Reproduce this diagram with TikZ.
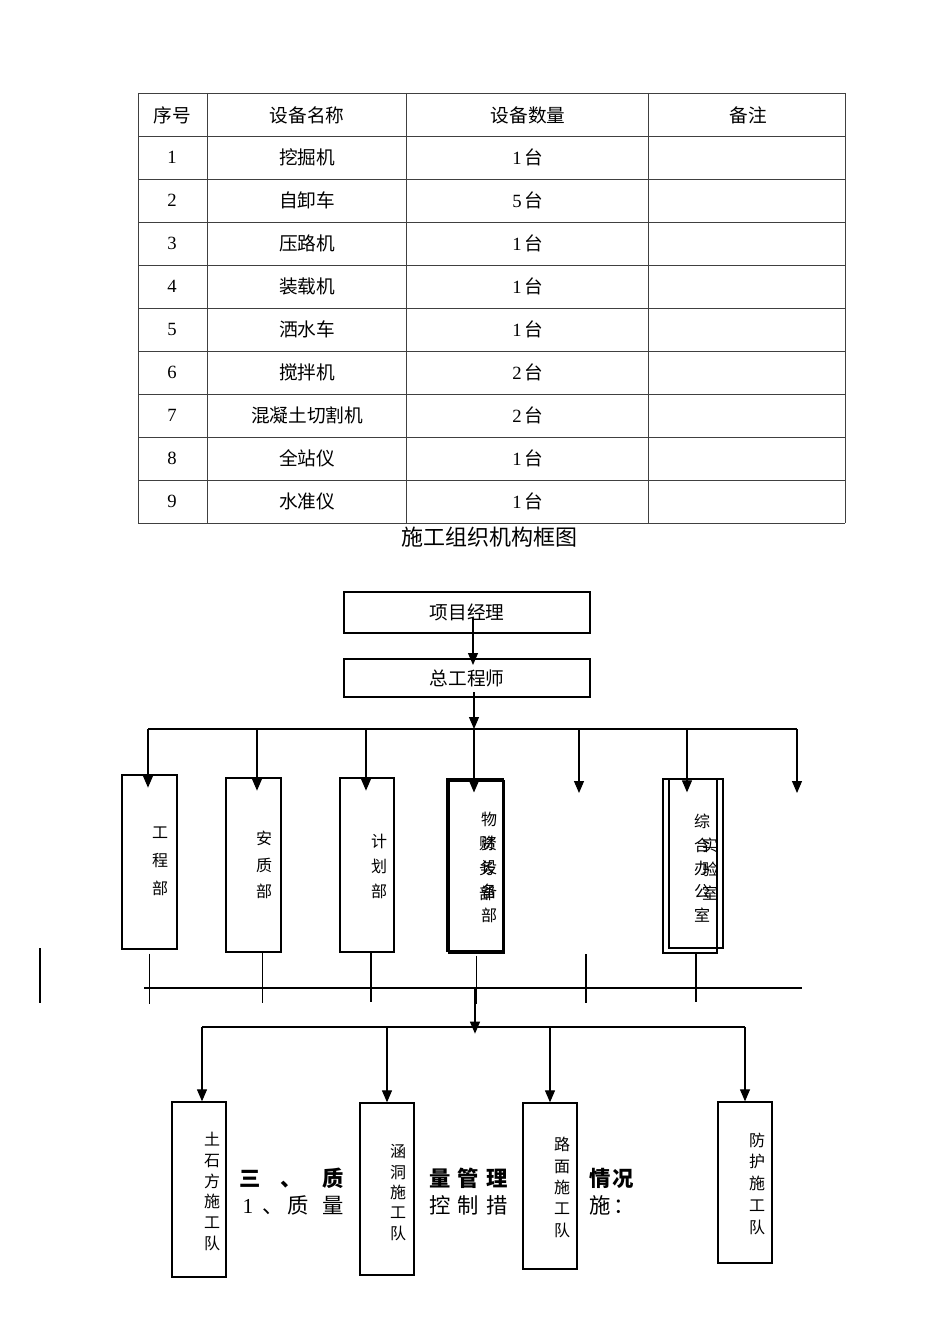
\documentclass[tikz,border=0pt]{standalone}
\usepackage{fontspec}
\setmainfont{Liberation Serif}
\newfontfamily\cjk{Noto Sans CJK SC}
\usetikzlibrary{arrows.meta,positioning}

\tikzset{
  cell/.style={font=\cjk\fontsize{14}{16}\selectfont, inner sep=0pt},
  grid/.style={line width=0.7pt, black!75},
  box/.style={draw, line width=1pt, inner sep=0pt},
  arr/.style={-{Triangle[length=9pt,width=7.5pt]}, line width=0.9pt},
  bar/.style={line width=1pt},
  stub/.style={line width=0.8pt},
  vlab/.style={font=\cjk\fontsize{12}{#1}\selectfont, align=center, inner sep=0pt},
  head/.style={font=\cjk\bfseries\fontsize{16}{18}\selectfont, anchor=base, inner sep=0pt},
  body/.style={font=\cjk\fontsize{16}{18}\selectfont, anchor=base, inner sep=0pt}
}

\begin{document}
\begin{tikzpicture}[x=0.75pt, y=-0.75pt]
    \fill[white] (0,0) rectangle (950,1344);
    \useasboundingbox (0,0) rectangle (950,1344);

    % equipment table
    \foreach \x in {138,207,406,648,845} \draw[grid] (\x,93) -- (\x,523);
    \foreach \y in {93,136,...,523} \draw[grid] (138,\y) -- (845,\y);

    \node[cell] (hno) at (172,115) {序号};
    \node[cell] (hname) at (307,115) {设备名称};
    \node[cell] (hqty) at (528,115) {设备数量};
    \node[cell] (hnote) at (748,115) {备注};

    \foreach \n/\name/\q [evaluate=\n as \yy using 114.5+43*\n] in
      {1/挖掘机/1, 2/自卸车/5, 3/压路机/1, 4/装载机/1, 5/洒水车/1,
       6/搅拌机/2, 7/混凝土切割机/2, 8/全站仪/1, 9/水准仪/1} {
      \node[cell] (no\n) at (172,\yy) {\rmfamily\n};
      \node[cell] (name\n) at (307,\yy) {\name};
      \node[cell] (qty\n) at (528,\yy) {{\rmfamily\q}\,台};
    }

    \node[font=\cjk\fontsize{16.5}{18}\selectfont] (title) at (489,537) {施工组织机构框图};

    % manager and chief engineer
    \node[box, minimum width=184.5pt, minimum height=30.75pt, cell] (pm) at (467,612.5) {项目经理};
    \node[box, minimum width=184.5pt, minimum height=28.5pt, cell] (ce) at (467,678) {总工程师};
    \draw[arr, shorten >=-5pt] ([xshift=4.5pt,yshift=-4pt]pm.center) -- ([xshift=4.5pt]ce.north);

    \coordinate (t1) at (148,729);
    \coordinate (t2) at (257,729);
    \coordinate (t3) at (366,729);
    \coordinate (t4) at (474,729);
    \coordinate (t5) at (579,729);
    \coordinate (t6) at (687,729);
    \coordinate (t7) at (797,729);
    \draw[arr] ([xshift=5.25pt,yshift=4pt]ce.south) -- (t4);
    \draw[bar] (t1) -- (t7);

    % departments
    \node[box, minimum width=41.25pt, minimum height=130.5pt] (gcb) at (149.5,862) {};
    \node[box, minimum width=41.25pt, minimum height=130.5pt] (aqb) at (253.5,865) {};
    \node[box, minimum width=40.5pt, minimum height=130.5pt] (jhb) at (367,865) {};
    \node[box, line width=0.8pt, minimum width=42pt, minimum height=129pt] (wzb) at (475,865) {};
    \node[box, line width=0.8pt, minimum width=41.25pt, minimum height=129pt] (cwb) at (476.5,867) {};
    \node[box, minimum width=40.5pt, minimum height=130.5pt] (zhb) at (690,866) {};
    \node[box, minimum width=40.5pt, minimum height=126.75pt] (syb) at (696,863.5) {};

    \node[vlab=21pt] (gcbt) at (160,861) {工\\程\\部};
    \node[vlab=20pt] (aqbt) at (264,865) {安\\质\\部};
    \node[vlab=18.75pt] (jhbt) at (379,866) {计\\划\\部};
    \node[vlab=18pt] (wzbt) at (489,867) {物\\资\\设\\备\\部};
    \node[vlab=18.75pt] (cwbt) at (487,868) {财\\务\\部};
    \node[vlab=17.5pt] (zhbt) at (702,868) {综\\合\\办\\公\\室};
    \node[vlab=18pt] (sybt) at (710,869) {实\\验\\室};

    \coordinate (e5) at (579,793);
    \coordinate (e7) at (797,793);
    \draw[arr, shorten >=-10pt] (t1) -- (t1 |- gcb.north);
    \draw[arr, shorten >=-10pt] (t2) -- (t2 |- aqb.north);
    \draw[arr, shorten >=-10pt] (t3) -- (t3 |- jhb.north);
    \draw[arr, shorten >=-10.5pt] (t4) -- (t4 |- wzb.north);
    \draw[arr] (t5) -- (e5);
    \draw[arr, shorten >=-10.5pt] (t6) -- (t6 |- zhb.north);
    \draw[arr] (t7) -- (e7);

    % stubs under the departments
    \draw[stub] ([yshift=-3pt]gcb.south) -- ++(0,50);
    \draw[stub] ([xshift=7pt]aqb.south) -- ++(0,50);
    \draw[stub] ([xshift=3pt]jhb.south) -- ++(0,49);
    \draw[stub] ([yshift=-1.5pt]cwb.south) -- ++(0,48);
    \draw[stub] (586,954) -- (586,1003);
    \draw[stub] ([yshift=-3pt]syb.south) -- ++(0,49);
    \draw[stub] (40,948) -- (40,1003);

    \coordinate (u1) at (144,988);
    \coordinate (u2) at (802,988);
    \draw[bar] (u1) -- (u2);

    \coordinate (m) at (475,988);
    \coordinate (n) at (475,1027);
    \draw[arr, shorten >=-5pt] (m) -- (n);

    % construction teams
    \node[box, minimum width=40.5pt, minimum height=131.25pt] (tsf) at (199,1189.5) {};
    \node[box, minimum width=40.5pt, minimum height=129pt] (hdd) at (387,1189) {};
    \node[box, minimum width=40.5pt, minimum height=124.5pt] (lmd) at (550,1186) {};
    \node[box, minimum width=40.5pt, minimum height=120.75pt] (fhd) at (745,1182.5) {};

    \node[vlab=15.5pt] (tsft) at (212,1191.5) {土\\石\\方\\施\\工\\队};
    \node[vlab=15.2pt] (hddt) at (398,1192.5) {涵\\洞\\施\\工\\队};
    \node[vlab=16pt] (lmdt) at (562,1187.5) {路\\面\\施\\工\\队};
    \node[vlab=16.3pt] (fhdt) at (757,1183.5) {防\\护\\施\\工\\队};

    \coordinate (d1) at (202,1027);
    \coordinate (d2) at (387,1027);
    \coordinate (d3) at (550,1027);
    \coordinate (d4) at (745,1027);
    \draw[bar] (d1) -- (d4);
    \draw[arr] (d1) -- (d1 |- tsf.north);
    \draw[arr] (d2) -- (d2 |- hdd.north);
    \draw[arr] (d3) -- (d3 |- lmd.north);
    \draw[arr] (d4) -- (d4 |- fhd.north);

    % heading text running through the teams
    \foreach \c/\x [count=\i] in {三/250, 、/291, 质/333, 量/440, 管/468, 理/497, 情/600, 况/623}
      \node[head] (hd\i) at (\x,1186) {\c};
    \foreach \c/\x [count=\i] in {{\rmfamily 1}/248, 、/273, 质/298, 量/333, 控/440, 制/468, 措/497, 施/600, ：/624}
      \node[body] (bd\i) at (\x,1213) {\c};
\end{tikzpicture}
\end{document}
